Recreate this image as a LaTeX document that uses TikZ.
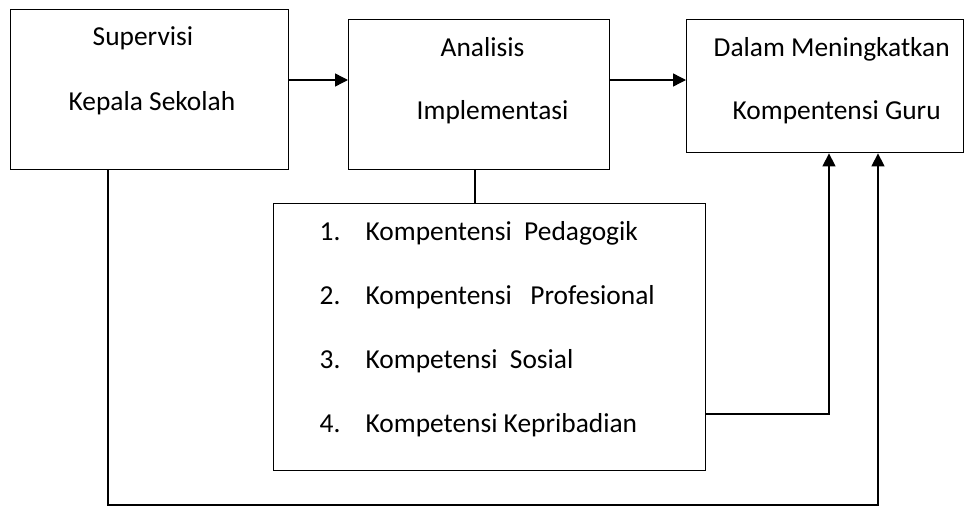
\documentclass[tikz,border=0pt]{standalone}
\usepackage{fontspec}
\setmainfont{Carlito}
\usetikzlibrary{arrows.meta}

\begin{document}
\begin{tikzpicture}[x=1pt, y=-1pt, line width=1.4pt,
  >={Triangle[length=13pt, width=13pt]},
  box/.style={draw, rectangle, inner sep=0pt, anchor=north west},
  txt/.style={inner sep=0pt, anchor=base west, font=\fontsize{27.4}{32}\selectfont}]
  \useasboundingbox (0,0) rectangle (964,506);
  % Boxes
  \node[box, minimum width=278pt, minimum height=160pt] (sup)  at (10,9)   {};
  \node[box, minimum width=261pt, minimum height=150pt] (ana)  at (348,19) {};
  \node[box, minimum width=277pt, minimum height=133pt] (gur)  at (686,19) {};
  \node[box, minimum width=432pt, minimum height=267pt] (komp) at (273,203) {};
  % Texts
  \node[txt] (sup1) at (92,45)   {Supervisi};
  \node[txt] (sup2) at (68,110)  {Kepala Sekolah};
  \node[txt] (ana1) at (440,56)  {Analisis};
  \node[txt] (ana2) at (416,119) {Implementasi};
  \node[txt] (gur1) at (713,56)  {Dalam Meningkatkan};
  \node[txt] (gur2) at (732,119) {Kompentensi Guru};
  \foreach \i/\t in {1/Kompentensi\ \ Pedagogik, 2/Kompentensi\ \ \ Profesional,
                     3/Kompetensi\ \ Sosial, 4/Kompetensi Kepribadian} {
    \node[txt] (n\i) at (319, 176+64*\i) {\i.};
    \node[txt] (k\i) at (365, 176+64*\i) {\t};
  }
  % Levels for the connectors
  \coordinate (row)  at (0,80);
  \coordinate (k4y)  at (0,414);
  \coordinate (low)  at (0,505);
  \coordinate (mid)  at (475,0);
  \coordinate (up1)  at (829,0);
  \coordinate (up2)  at (878,0);
  \coordinate (down) at (108,0);
  % Top row arrows
  \draw[->] (sup.east |- row) -- (ana.west |- row);
  \draw[->] (ana.east |- row) -- (gur.west |- row);
  \draw (ana.south -| mid) -- (komp.north -| mid);
  % Feedback lines into the last box
  \draw[->] (komp.east |- k4y) -| (up1 |- gur.south);
  \draw[->] (sup.south -| down) |- (low -| up2) -- (up2 |- gur.south);
\end{tikzpicture}
\end{document}
